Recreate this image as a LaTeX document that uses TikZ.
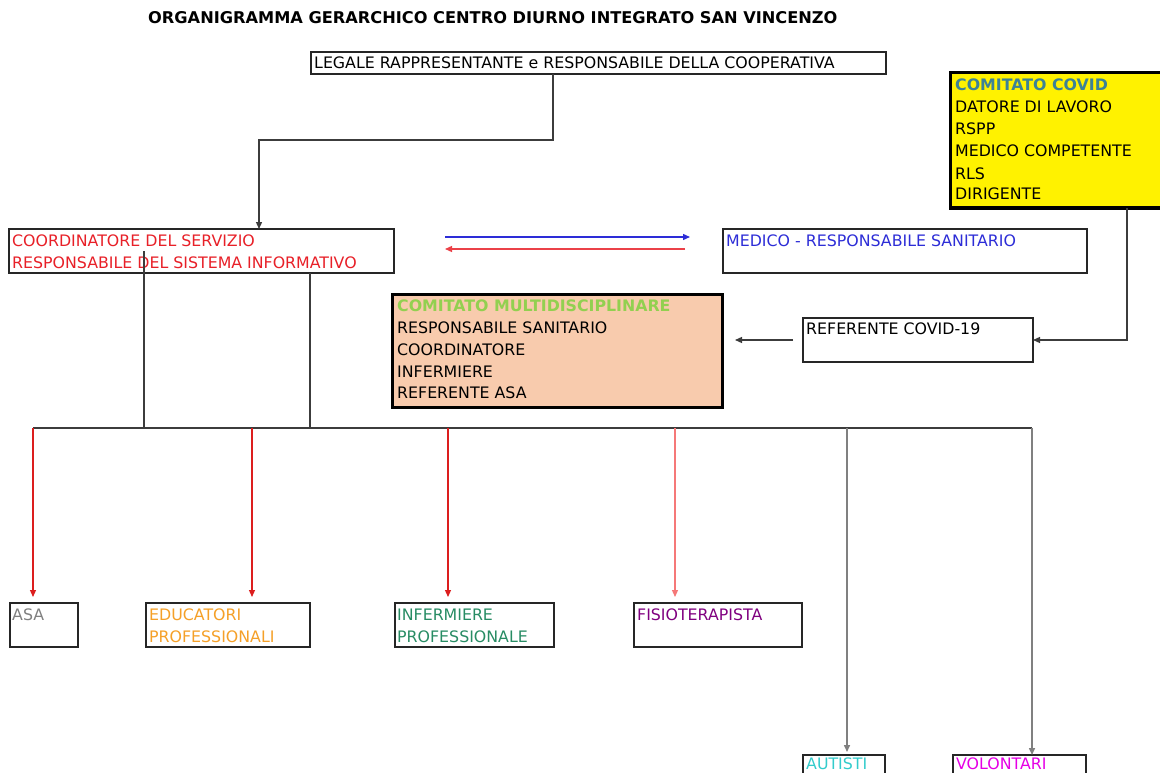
\documentclass[tikz,border=0pt]{standalone}
\usepackage{fontspec}
\setmainfont{DejaVu Sans}
\usetikzlibrary{arrows.meta}
\definecolor{cRed}{RGB}{232,32,40}
\definecolor{cBlue}{RGB}{45,45,215}
\definecolor{cTeal}{RGB}{60,130,150}
\definecolor{cLgreen}{RGB}{146,208,80}
\definecolor{cSalmon}{RGB}{248,203,173}
\definecolor{cGray}{RGB}{128,128,128}
\definecolor{cOrange}{RGB}{245,160,40}
\definecolor{cGreen}{RGB}{40,140,100}
\definecolor{cPurple}{RGB}{128,0,128}
\definecolor{cCyan}{RGB}{51,204,204}
\definecolor{cMagenta}{RGB}{230,0,230}
\definecolor{cLine}{RGB}{60,60,60}
\definecolor{cArrRed}{RGB}{220,30,30}
\definecolor{cArrPink}{RGB}{245,120,120}
\begin{document}
\begin{tikzpicture}[x=1pt,y=-1pt,
  box/.style={draw=black!85,line width=1.4pt,anchor=north west,inner sep=0pt,outer sep=0pt},
  thickbox/.style={box,line width=3pt,draw=black},
  txt/.style={anchor=base west,inner sep=0pt,font=\fontsize{15.8}{18}\selectfont},
  btxt/.style={txt,font=\fontsize{15.8}{18}\selectfont\bfseries},
  conn/.style={draw=cLine,line width=1.3pt},
  tip/.style={-{Triangle[length=7pt,width=6pt]}},
  redarr/.style={draw=cArrRed,line width=1.2pt,tip},
  grayarr/.style={draw=cGray,line width=1.5pt,tip}]
\clip (0,0) rectangle (1160,773);
\path[use as bounding box,fill=white] (0,0) rectangle (1160,773);

% title
\node[anchor=base west,inner sep=0pt,font=\fontsize{16.2}{18}\selectfont\bfseries] (title) at (148,24) {ORGANIGRAMMA GERARCHICO CENTRO DIURNO INTEGRATO SAN VINCENZO};

% boxes
\node[box,minimum width=575pt,minimum height=22pt] (legale) at (311,52) {};
\node[txt] (legaleT) at (314,69) {LEGALE RAPPRESENTANTE e RESPONSABILE DELLA COOPERATIVA};

\node[thickbox,fill=yellow,minimum width=220pt,minimum height=135pt] (covid) at (950,73) {};
\node[btxt,text=cTeal] (covidT) at (955,91) {COMITATO COVID};
\node[txt] (covid1) at (955,113) {DATORE DI LAVORO};
\node[txt] (covid2) at (955,135) {RSPP};
\node[txt] (covid3) at (955,157) {MEDICO COMPETENTE};
\node[txt] (covid4) at (955,179) {RLS};
\node[txt] (covid5) at (955,200) {DIRIGENTE};

\node[box,minimum width=385pt,minimum height=44pt] (coord) at (9,229) {};
\node[txt,text=cRed] (coord1) at (12,246) {COORDINATORE DEL SERVIZIO};
\node[txt,text=cRed] (coord2) at (12,268) {RESPONSABILE DEL SISTEMA INFORMATIVO};

\node[box,minimum width=364pt,minimum height=44pt] (medico) at (723,229) {};
\node[txt,text=cBlue] (medicoT) at (726,246) {MEDICO - RESPONSABILE SANITARIO};

\node[thickbox,fill=cSalmon,minimum width=330pt,minimum height=113pt] (multi) at (392,294) {};
\node[btxt,text=cLgreen] (multiT) at (397,311) {COMITATO MULTIDISCIPLINARE};
\node[txt] (multi1) at (397,333) {RESPONSABILE SANITARIO};
\node[txt] (multi2) at (397,355) {COORDINATORE};
\node[txt] (multi3) at (397,377) {INFERMIERE};
\node[txt] (multi4) at (397,398) {REFERENTE ASA};

\node[box,minimum width=230pt,minimum height=44pt] (ref) at (803,318) {};
\node[txt] (refT) at (806,334) {REFERENTE COVID-19};

\node[box,minimum width=68pt,minimum height=44pt] (asa) at (10,603) {};
\node[txt,text=cGray] (asaT) at (12,620) {ASA};
\node[box,minimum width=164pt,minimum height=44pt] (edu) at (146,603) {};
\node[txt,text=cOrange] (edu1) at (149,620) {EDUCATORI};
\node[txt,text=cOrange] (edu2) at (149,642) {PROFESSIONALI};
\node[box,minimum width=159pt,minimum height=44pt] (inf) at (395,603) {};
\node[txt,text=cGreen] (inf1) at (397,620) {INFERMIERE};
\node[txt,text=cGreen] (inf2) at (397,642) {PROFESSIONALE};
\node[box,minimum width=168pt,minimum height=44pt] (fisio) at (634,603) {};
\node[txt,text=cPurple] (fisioT) at (637,620) {FISIOTERAPISTA};
\node[box,minimum width=82pt,minimum height=44pt] (autisti) at (803,755) {};
\node[txt,text=cCyan,text depth=0pt] (autistiT) at (806,769) {AUTISTI};
\node[box,minimum width=133pt,minimum height=44pt] (volont) at (953,755) {};
\node[txt,text=cMagenta,text depth=0pt] (volontT) at (956,769) {VOLONTARI};

% connectors
\coordinate (lgx) at (553,140);
\coordinate (jog) at (259,140);
\draw[conn,tip] (legale.south -| lgx) -- (lgx) -- (jog) -- (coord.north -| jog);

\draw[draw=cBlue,line width=1.3pt,tip] ([xshift=51pt,yshift=14pt]coord.east) -- ([xshift=-33pt,yshift=14pt]medico.west);
\draw[draw=cRed!85,line width=1.3pt,tip] ([xshift=-38pt,yshift=2pt]medico.west) -- ([xshift=51pt,yshift=2pt]coord.east);

\coordinate (cvx) at (1127,300);
\draw[conn,tip] (covid.south -| cvx) |- (ref.east);
\draw[conn,tip,shorten <=10pt,shorten >=13pt] (ref.west) -- (multi.east |- ref.west);

% bus
\coordinate (busL) at (33,428);
\coordinate (busR) at (1032,428);
\coordinate (v1) at (144,428);
\coordinate (v2) at (310,428);
\draw[conn] (coord.center -| v1) -- (v1);
\draw[conn] (coord.south -| v2) -- (v2);
\draw[conn] (busL) -- (busR);

\coordinate (a1) at (33,428);
\coordinate (a2) at (252,428);
\coordinate (a3) at (448,428);
\coordinate (a4) at (675,428);
\coordinate (a5) at (847,428);
\draw[redarr,shorten >=6pt] (a1) -- (a1 |- asa.north);
\draw[redarr,shorten >=6pt] (a2) -- (a2 |- edu.north);
\draw[redarr,shorten >=6pt] (a3) -- (a3 |- inf.north);
\draw[redarr,draw=cArrPink,shorten >=6pt] (a4) -- (a4 |- fisio.north);
\draw[grayarr,shorten >=3pt] (a5) -- (a5 |- autisti.north);
\draw[grayarr] (busR) -- (busR |- volont.north);
\end{tikzpicture}
\end{document}
